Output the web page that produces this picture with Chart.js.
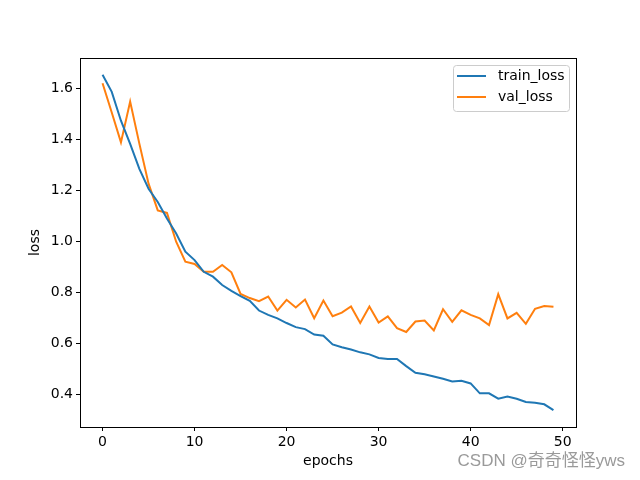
<!DOCTYPE html>
<html>
<head>
<meta charset="utf-8">
<script src="https://cdn.jsdelivr.net/npm/chart.js@4/dist/chart.umd.min.js"></script>
<style>
    html, body { margin: 0; padding: 0; background: #fff; }
    #wrap { width: 640px; height: 480px; }
</style>
</head>
<body>
<div id="wrap"><canvas id="chart" width="640" height="480"></canvas></div>
<script>
// Courbes d'apprentissage.
const epochs = [0, 1, 2, 3, 4, 5, 6, 7, 8, 9,
    10, 11, 12, 13, 14, 15, 16, 17, 18, 19,
    20, 21, 22, 23, 24, 25, 26, 27, 28, 29,
    30, 31, 32, 33, 34, 35, 36, 37, 38, 39,
    40, 41, 42, 43, 44, 45, 46, 47, 48, 49];

const trainLoss = [1.655, 1.588, 1.475, 1.384, 1.286, 1.208, 1.156, 1.091, 1.032, 0.961,
    0.928, 0.882, 0.863, 0.830, 0.807, 0.787, 0.768, 0.730, 0.713, 0.699,
    0.681, 0.665, 0.657, 0.636, 0.631, 0.597, 0.586, 0.577, 0.566, 0.558,
    0.544, 0.540, 0.540, 0.512, 0.486, 0.480, 0.471, 0.462, 0.452, 0.454,
    0.444, 0.405, 0.405, 0.384, 0.393, 0.384, 0.371, 0.368, 0.362, 0.339];

const valLoss = [1.622, 1.507, 1.390, 1.550, 1.385, 1.228, 1.123, 1.113, 1.000, 0.922,
    0.913, 0.882, 0.882, 0.909, 0.880, 0.795, 0.779, 0.767, 0.785, 0.730,
    0.772, 0.742, 0.773, 0.700, 0.769, 0.708, 0.722, 0.746, 0.681, 0.746,
    0.683, 0.707, 0.661, 0.646, 0.687, 0.691, 0.652, 0.735, 0.686, 0.731,
    0.713, 0.699, 0.673, 0.794, 0.699, 0.721, 0.678, 0.737, 0.748, 0.745];

const xTicks = [0, 10, 20, 30, 40, 50];
const yTicks = [0.4, 0.6, 0.8, 1.0, 1.2, 1.4, 1.6];

const seriesNames = ['train_loss', 'val_loss'];
const BLUE = '#1f77b4';
const ORANGE = '#ff7f0e';
const FONT = 'DejaVu Sans';

function points(values) {
    return values.map(function (v, i) { return { x: epochs[i], y: v }; });
}

// Cadre complet autour de la zone de tracé (style matplotlib).
const frame = {
    id: 'frame',
    afterDatasetsDraw: function (chart) {
        const a = chart.chartArea;
        const ctx = chart.ctx;
        ctx.save();
        ctx.strokeStyle = '#000';
        ctx.lineWidth = 1;
        ctx.strokeRect(Math.round(a.left) + 0.5, Math.round(a.top) + 0.5,
            Math.round(a.right - a.left), Math.round(a.bottom - a.top));
        ctx.restore();
    }
};

// Légende encadrée en haut à droite, à l'intérieur des axes.
const boxLegend = {
    id: 'boxLegend',
    afterDraw: function (chart) {
        const ctx = chart.ctx;
        const x0 = 453.5, y0 = 65.5, w = 116, h = 46;
        ctx.save();
        ctx.fillStyle = 'rgba(255,255,255,0.8)';
        ctx.strokeStyle = '#cccccc';
        ctx.lineWidth = 1;
        ctx.beginPath();
        ctx.roundRect(x0, y0, w, h, 3);
        ctx.fill();
        ctx.stroke();
        ctx.font = '14px "' + FONT + '"';
        ctx.textBaseline = 'middle';
        ctx.fillStyle = '#000';
        chart.data.datasets.forEach(function (ds, i) {
            const y = 76 + i * 21;
            ctx.strokeStyle = ds.borderColor;
            ctx.lineWidth = 2;
            ctx.beginPath();
            ctx.moveTo(457, y);
            ctx.lineTo(486, y);
            ctx.stroke();
            ctx.fillText(ds.label, 498, y);
        });
        ctx.restore();
    }
};

// Filigrane en bas à droite.
const watermark = {
    id: 'watermark',
    afterDraw: function (chart) {
        const ctx = chart.ctx;
        ctx.save();
        ctx.font = '17px "Liberation Sans", "Noto Sans CJK SC"';
        ctx.fillStyle = '#9a9a9a';
        ctx.textAlign = 'right';
        ctx.textBaseline = 'middle';
        ctx.fillText('CSDN @奇奇怪怪yws', 625, 461);
        ctx.restore();
    }
};

const tickFont = { family: FONT, size: 14 };

new Chart(document.getElementById('chart'), {
    type: 'line',
    data: {
        datasets: [
            { label: seriesNames[0], data: points(trainLoss), borderColor: BLUE, backgroundColor: BLUE,
              borderWidth: 2, pointRadius: 0, tension: 0 },
            { label: seriesNames[1], data: points(valLoss), borderColor: ORANGE, backgroundColor: ORANGE,
              borderWidth: 2, pointRadius: 0, tension: 0 }
        ]
    },
    options: {
        responsive: false,
        animation: false,
        layout: { padding: { top: 58, right: 64, left: 0, bottom: 0 } },
        plugins: { legend: { display: false }, tooltip: { enabled: false } },
        scales: {
            x: {
                type: 'linear',
                min: -2.45,
                max: 51.45,
                afterBuildTicks: function (s) { s.ticks = xTicks.map(function (v) { return { value: v }; }); },
                afterFit: function (s) { s.height = 53; },
                grid: { display: true, drawOnChartArea: false, drawTicks: true, tickLength: 4, color: '#000' },
                border: { display: true, color: '#000' },
                ticks: { color: '#000', font: tickFont, padding: 3, maxRotation: 0, autoSkip: false },
                title: { display: true, text: 'epochs', color: '#000', font: tickFont, padding: { top: 0, bottom: 10 } }
            },
            y: {
                min: 0.273,
                max: 1.721,
                afterBuildTicks: function (s) { s.ticks = yTicks.map(function (v) { return { value: v }; }); },
                afterFit: function (s) { s.width = 80; },
                grid: { display: true, drawOnChartArea: false, drawTicks: true, tickLength: 4, color: '#000' },
                border: { display: true, color: '#000' },
                ticks: {
                    color: '#000', font: tickFont, padding: 3, autoSkip: false,
                    callback: function (v) { return Number(v).toFixed(1); }
                },
                title: { display: true, text: 'loss', color: '#000', font: tickFont, padding: { top: 27, bottom: 0 } }
            }
        }
    },
    plugins: [frame, boxLegend, watermark]
});
</script>
</body>
</html>
